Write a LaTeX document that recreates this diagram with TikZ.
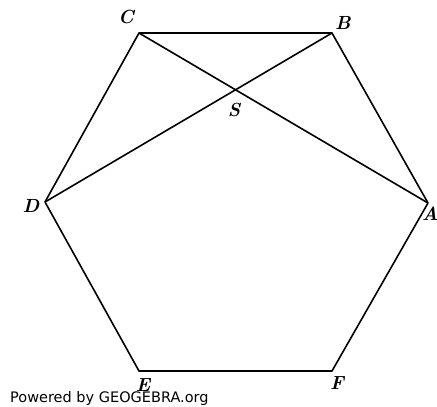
\documentclass[tikz,border=0pt]{standalone}
\usepackage{fontspec}
\newfontfamily\ggbfont{DejaVu Sans}
\begin{document}
\begin{tikzpicture}[x=1pt,y=-1pt,
  edge/.style={line width=1.6pt,line join=round},
  lbl/.style={inner sep=0pt,font=\fontsize{19}{22}\selectfont\bfseries\itshape},
  pt/.style={inner sep=0pt,minimum size=0pt}]
\useasboundingbox[fill=white] (0,0) rectangle (437,407);
\node[pt] (A) at (428,203) {};
\node[pt] (B) at (332,33) {};
\node[pt] (C) at (139,33) {};
\node[pt] (D) at (45,202) {};
\node[pt] (E) at (139,371) {};
\node[pt] (F) at (332,371) {};
\draw[edge] (A.center) -- (B.center) -- (C.center) -- (D.center) -- (E.center) -- (F.center) -- cycle;
\draw[edge] (C.center) -- (A.center);
\draw[edge] (D.center) -- (B.center);
\node[lbl] (lA) at (430,214) {A};
\node[lbl] (lB) at (343,23) {B};
\node[lbl] (lC) at (126,17) {C};
\node[lbl] (lD) at (31,206) {D};
\node[lbl] (lS) at (234,110) {S};
\node[lbl] (lE) at (143,385) {E};
\node[lbl] (lF) at (337,383) {F};
\node[anchor=west,inner sep=0pt,font=\ggbfont\fontsize{14.5}{16}\selectfont] (pw) at (10,398) {Powered by GEOGEBRA.org};
\end{tikzpicture}
\end{document}
